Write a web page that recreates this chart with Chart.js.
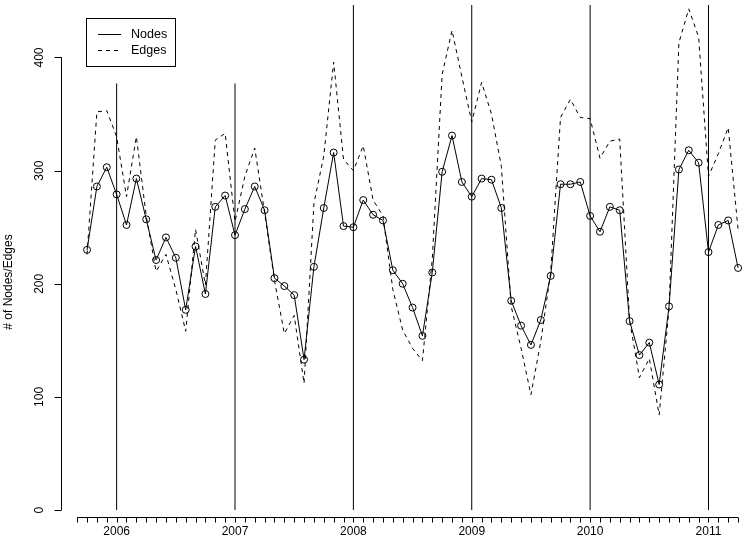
<!DOCTYPE html>
<html>
<head>
<meta charset="utf-8">
<script src="https://cdn.jsdelivr.net/npm/chart.js@4"></script>
<style>
  html, body { margin: 0; padding: 0; background: #fff; }
  canvas { display: block; }
</style>
</head>
<body>
<canvas id="c" width="749" height="560"></canvas>
<script>
// monthly samples, first of each month
const months = [
  '2005-10','2005-11','2005-12',
  '2006-01','2006-02','2006-03','2006-04','2006-05','2006-06','2006-07','2006-08','2006-09','2006-10','2006-11','2006-12',
  '2007-01','2007-02','2007-03','2007-04','2007-05','2007-06','2007-07','2007-08','2007-09','2007-10','2007-11','2007-12',
  '2008-01','2008-02','2008-03','2008-04','2008-05','2008-06','2008-07','2008-08','2008-09','2008-10','2008-11','2008-12',
  '2009-01','2009-02','2009-03','2009-04','2009-05','2009-06','2009-07','2009-08','2009-09','2009-10','2009-11','2009-12',
  '2010-01','2010-02','2010-03','2010-04','2010-05','2010-06','2010-07','2010-08','2010-09','2010-10','2010-11','2010-12',
  '2011-01','2011-02','2011-03','2011-04'
];
const nodes = [
  230,286,303,
  279,252,293,257,221,241,223,177,233,191,268,278,
  243,266,286,265,205,198,190,133,215,267,316,251,
  250,274,261,256,212,200,179,154,210,299,331,290,
  277,293,292,267,185,163,146,168,207,288,288,290,
  260,246,268,265,167,137,148,111,180,301,318,307,
  228,252,256,214
];
const edges = [
  226,352,353,
  330,277,330,260,211,226,195,158,248,199,327,333,
  255,295,320,263,203,156,172,112,271,313,396,310,
  300,322,274,260,195,159,143,132,222,385,424,383,
  343,378,350,304,180,143,102,149,210,347,363,347,
  346,311,326,328,168,117,134,84,178,413,443,418,
  295,315,338,248
];
// vertical markers at the turn of each year
const yearLines = ['2006-01','2007-01','2008-01','2009-01','2010-01','2011-01'];
const yearLineTops = [377,377,470,470,470,470];
const yearLabels = ['2006','2007','2008','2009','2010','2011'];
const yTicks = [0,100,200,300,400];
const axisFirst = '2005-09', axisLast = '2011-04';

// month index, 0 = Jan 2006
function mi(s) {
  let p = s.split('-');
  return (+p[0] - 2006) * 12 + (+p[1] - 1);
}

const FONT = '12px "Liberation Sans", Arial, sans-serif';

let datasets = [
  {
    label: 'Nodes',
    data: months.map((m,i)=>({x:mi(m), y:nodes[i]})),
    borderColor: '#000', borderWidth: 1,
    pointRadius: 3.5, pointStyle: 'circle',
    pointBackgroundColor: 'rgba(0,0,0,0)', pointBorderColor: '#000', pointBorderWidth: 1
  },
  {
    label: 'Edges',
    data: months.map((m,i)=>({x:mi(m), y:edges[i]})),
    borderColor: '#000', borderWidth: 1, borderDash: [4,4],
    pointRadius: 0
  }
];
yearLines.forEach((m,i)=>{
  datasets.push({
    label: 'year' + i,
    data: [{x:mi(m), y:0}, {x:mi(m), y:yearLineTops[i]}],
    borderColor: '#000', borderWidth: 1, pointRadius: 0
  });
});

// R-style detached axes, legend box and title
const rAxes = {
  id: 'rAxes',
  afterDraw(chart) {
    let ctx = chart.ctx, xs = chart.scales.x, ys = chart.scales.y, a = chart.chartArea;
    ctx.save();
    ctx.strokeStyle = '#000';
    ctx.fillStyle = '#000';
    ctx.lineWidth = 1;
    ctx.font = FONT;

    // y axis
    let ax = Math.round(a.left) + 0.5;
    ctx.beginPath();
    ctx.moveTo(ax, ys.getPixelForValue(yTicks[0]));
    ctx.lineTo(ax, ys.getPixelForValue(yTicks[yTicks.length-1]));
    yTicks.forEach(v=>{
      let py = Math.round(ys.getPixelForValue(v)) + 0.5;
      ctx.moveTo(ax, py);
      ctx.lineTo(ax - 7, py);
    });
    ctx.stroke();
    ctx.textAlign = 'center';
    ctx.textBaseline = 'middle';
    yTicks.forEach(v=>{
      ctx.save();
      ctx.translate(ax - 22, ys.getPixelForValue(v));
      ctx.rotate(-Math.PI/2);
      ctx.fillText(String(v), 0, 0);
      ctx.restore();
    });

    // x axis, monthly ticks
    let ay = Math.round(a.bottom) - 0.5;
    ctx.beginPath();
    ctx.moveTo(xs.getPixelForValue(mi(axisFirst)), ay);
    ctx.lineTo(xs.getPixelForValue(mi(axisLast)), ay);
    for (let m = mi(axisFirst); m <= mi(axisLast); m++) {
      let px = Math.round(xs.getPixelForValue(m)) + 0.5;
      ctx.moveTo(px, ay);
      ctx.lineTo(px, ay + 5);
    }
    ctx.stroke();
    yearLabels.forEach(l=>{
      ctx.fillText(l, xs.getPixelForValue(mi(l + '-01')), ay + 14);
    });

    // y title
    ctx.save();
    ctx.translate(9, 282);
    ctx.rotate(-Math.PI/2);
    ctx.fillText('# of Nodes/Edges', 0, 0);
    ctx.restore();

    // legend
    ctx.strokeRect(86.5, 18.5, 89, 48);
    ctx.beginPath();
    ctx.moveTo(98, 34.5); ctx.lineTo(121, 34.5);
    ctx.stroke();
    ctx.setLineDash([4,4]);
    ctx.beginPath();
    ctx.moveTo(98, 50.5); ctx.lineTo(121, 50.5);
    ctx.stroke();
    ctx.setLineDash([]);
    ctx.textAlign = 'left';
    ctx.font = '12.5px "Liberation Sans", Arial, sans-serif';
    ctx.fillText('Nodes', 131, 34.5);
    ctx.fillText('Edges', 131, 50.5);
    ctx.restore();
  }
};

new Chart(document.getElementById('c'), {
  type: 'line',
  data: { datasets: datasets },
  options: {
    responsive: false,
    animation: false,
    devicePixelRatio: 1,
    layout: { padding: { left: 61, right: 0, top: 0, bottom: 42 } },
    elements: { line: { tension: 0 } },
    scales: {
      x: { type: 'linear', display: false, min: -5.64, max: 63.6 },
      y: { display: false, min: -7, max: 446.4 }
    },
    plugins: { legend: { display: false }, tooltip: { enabled: false } }
  },
  plugins: [rAxes]
});
</script>
</body>
</html>
